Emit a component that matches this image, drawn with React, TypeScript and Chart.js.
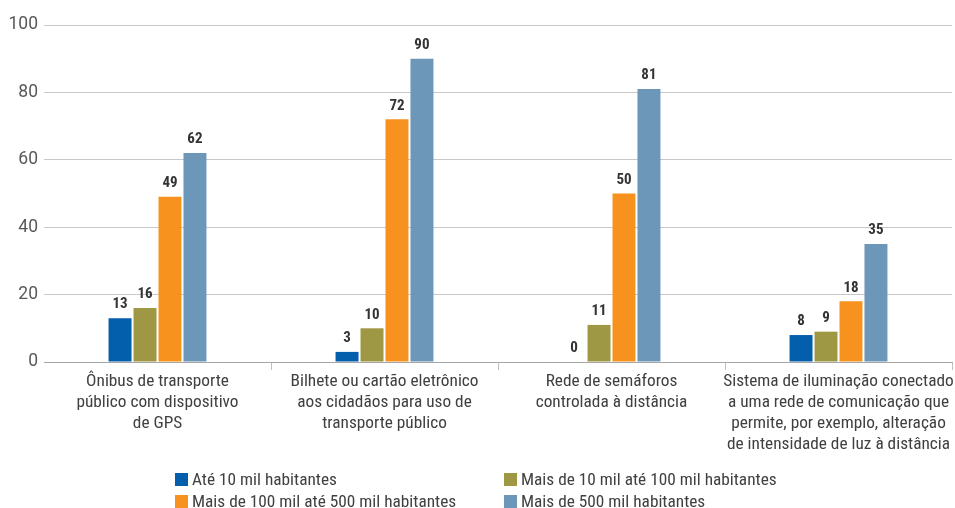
import { useEffect, useRef } from "react";
import { Chart, registerables } from "chart.js";

Chart.register(...registerables);

const categories: string[][] = [
  ["Ônibus de transporte", "público com dispositivo", "de GPS"],
  ["Bilhete ou cartão eletrônico", "aos cidadãos para uso de", "transporte público"],
  ["Rede de semáforos", "controlada à distância"],
  [
    "Sistema de iluminação conectado",
    "a uma rede de comunicação que",
    "permite, por exemplo, alteração",
    "de intensidade de luz à distância",
  ],
];

const seriesNames = [
  "Até 10 mil habitantes",
  "Mais de 10 mil até 100 mil habitantes",
  "Mais de 100 mil até 500 mil habitantes",
  "Mais de 500 mil habitantes",
];

const ate10mil = [13, 3, 0, 8];
const de10a100mil = [16, 10, 11, 9];
const de100a500mil = [49, 72, 50, 18];
const mais500mil = [62, 90, 81, 35];

const yTicks = [0, 20, 40, 60, 80, 100];

const colors = ["#035EAC", "#9E9743", "#F7921E", "#6D97B9"];

const FAMILY = "Roboto, 'Open Sans', sans-serif";

const valueLabels = {
  id: "valueLabels",
  afterDatasetsDraw(chart: any) {
    const ctx = chart.ctx;
    ctx.save();
    ctx.font = `bold condensed 15px ${FAMILY}`;
    ctx.fillStyle = "#333333";
    ctx.textAlign = "center";
    ctx.textBaseline = "bottom";
    chart.data.datasets.forEach((ds: any, di: number) => {
      const meta = chart.getDatasetMeta(di);
      meta.data.forEach((el: any, i: number) => {
        ctx.fillText(String(ds.data[i]), el.x, el.y - 6);
      });
    });
    ctx.restore();
  },
};

export default function App() {
  const canvasRef = useRef<HTMLCanvasElement | null>(null);

  useEffect(() => {
    if (!canvasRef.current) return;
    const seriesData = [ate10mil, de10a100mil, de100a500mil, mais500mil];
    const chart = new Chart(canvasRef.current, {
      type: "bar",
      data: {
        labels: categories,
        datasets: seriesData.map((d, i) => ({
          label: seriesNames[i],
          data: d,
          backgroundColor: colors[i],
          borderWidth: 0,
          categoryPercentage: 0.44,
          barPercentage: 0.92,
        })),
      },
      options: {
        animation: false,
        responsive: false,
        maintainAspectRatio: false,
        layout: { padding: { top: 25, right: 3, left: 0, bottom: 0 } },
        plugins: {
          legend: { display: false },
          tooltip: { enabled: false },
        },
        scales: {
          x: {
            offset: true,
            grid: {
              display: true,
              drawOnChartArea: false,
              offset: true,
              tickLength: 8,
              color: (c: any) =>
                c.index === 0 || c.index >= categories.length ? "rgba(0,0,0,0)" : "#bfbfbf",
            },
            border: { display: true, color: "#a6a6a6" },
            ticks: {
              color: "#404040",
              font: { family: FAMILY, weight: "condensed" as any, size: 17.3, lineHeight: 21 / 17.3 },
              padding: 1,
              maxRotation: 0,
              autoSkip: false,
            },
            afterFit: (scale: any) => {
              scale.height = 146;
              scale.paddingLeft = 0;
              scale.paddingRight = 0;
            },
          },
          y: {
            min: 0,
            max: 100,
            afterBuildTicks: (scale: any) => {
              scale.ticks = yTicks.map((v) => ({ value: v }));
            },
            grid: { color: "#c8c8c8", drawTicks: false },
            border: { display: false },
            ticks: {
              color: "#595959",
              font: { family: FAMILY, size: 17.5 },
              padding: 6,
            },
            afterFit: (scale: any) => {
              scale.width = 44;
            },
          },
        },
      },
      plugins: [valueLabels],
    });
    return () => chart.destroy();
  }, []);

  const legendPos = [
    { left: 175, top: 470 },
    { left: 504, top: 470 },
    { left: 175, top: 492 },
    { left: 504, top: 492 },
  ];

  return (
    <div style={{ position: "absolute", left: 0, top: 0, width: 955, height: 508, background: "#fff" }}>
      <canvas ref={canvasRef} width={955} height={508} style={{ width: 955, height: 508, display: "block" }} />
      {seriesNames.map((name, i) => (
        <div
          key={name}
          style={{
            position: "absolute",
            left: legendPos[i].left,
            top: legendPos[i].top,
            height: 18,
            display: "flex",
            alignItems: "center",
            fontFamily: FAMILY,
            fontStretch: "condensed",
            fontSize: 17.3,
            color: "#404040",
            whiteSpace: "nowrap",
          }}
        >
          <span style={{ width: 13, height: 13, background: colors[i], marginRight: 4, display: "inline-block" }} />
          {name}
        </div>
      ))}
    </div>
  );
}
